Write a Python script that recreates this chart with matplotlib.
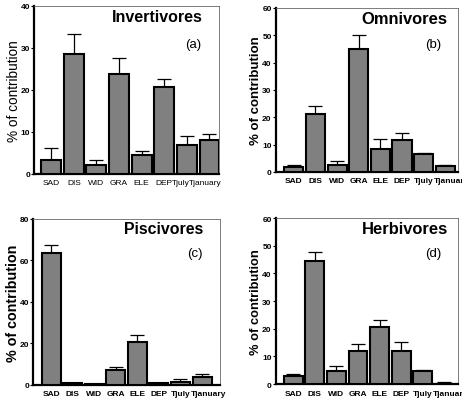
import numpy as np
import matplotlib
matplotlib.use("Agg")
import matplotlib.pyplot as plt
from matplotlib.transforms import ScaledTranslation

plt.rcParams['font.family'] = ['Liberation Sans', 'DejaVu Sans']

variables = ["SAD", "DIS", "WID", "GRA", "ELE", "DEP", "Tjuly", "Tjanuary"]

# mean contribution (%) and upper end of the error bar for each trophic group
invert_mean = [3.2, 28.6, 2.0, 23.7, 4.4, 20.6, 6.8, 8.0]
invert_top = [6.1, 33.2, 3.2, 27.7, 5.4, 22.7, 8.9, 9.4]
omni_mean = [1.9, 21.2, 2.5, 44.9, 8.3, 11.8, 6.6, 2.1]
omni_top = [2.4, 24.0, 4.1, 50.0, 11.9, 14.1, 7.0, 2.5]
pisci_mean = [63.8, 1.0, 0.5, 7.2, 20.6, 1.0, 1.2, 3.6]
pisci_top = [67.5, 1.0, 0.5, 8.7, 24.2, 1.0, 2.9, 5.1]
herb_mean = [2.9, 44.5, 4.6, 11.8, 20.8, 11.8, 4.7, 0.1]
herb_top = [3.5, 47.7, 6.6, 14.4, 23.3, 15.3, 5.1, 0.7]

panels = [
    dict(title="Invertivores", tag="(a)", mean=invert_mean, top=invert_top, ymax=40, ystep=10,
         rect=[0.074, 0.565, 0.400, 0.418], xlim=(-0.75, 7.42), bold=False, ylsize=9.8,
         tsize=11.5, tpos=(0.914, 0.935), apos=(0.86, 0.775)),
    dict(title="Omnivores", tag="(b)", mean=omni_mean, top=omni_top, ymax=60, ystep=10,
         rect=[0.597, 0.570, 0.395, 0.408], xlim=(-0.83, 7.6), bold=True, ylsize=9.5,
         tsize=11.9, tpos=(0.94, 0.933), apos=(0.86, 0.78)),
    dict(title="Piscivores", tag="(c)", mean=pisci_mean, top=pisci_top, ymax=80, ystep=20,
         rect=[0.072, 0.040, 0.404, 0.413], xlim=(-0.83, 7.83), bold=True, ylsize=10.3,
         tsize=11.4, tpos=(0.91, 0.94), apos=(0.866, 0.795)),
    dict(title="Herbivores", tag="(d)", mean=herb_mean, top=herb_top, ymax=60, ystep=10,
         rect=[0.597, 0.042, 0.395, 0.413], xlim=(-0.81, 7.65), bold=True, ylsize=9.3,
         tsize=11.9, tpos=(0.945, 0.94), apos=(0.863, 0.79)),
]

fig = plt.figure(figsize=(4.62, 4.02), dpi=100)


def nudge(label, ha, dx):
    label.set_ha(ha)
    label.set_transform(label.get_transform() + ScaledTranslation(dx, 0, fig.dpi_scale_trans))


for p in panels:
    ax = fig.add_axes(p["rect"])
    x = np.arange(len(variables))
    mean = np.array(p["mean"])
    err = np.array(p["top"]) - mean
    ax.bar(x, mean, width=0.88, color="#808080", edgecolor="black", linewidth=1.5, zorder=3)
    ax.errorbar(x, mean, yerr=[np.zeros_like(err), err], fmt="none", ecolor="black",
                elinewidth=0.9, capsize=5, capthick=0.9, zorder=2)
    ax.set_xlim(*p["xlim"])
    ax.set_ylim(0, p["ymax"])
    ax.set_yticks(np.arange(0, p["ymax"] + 1, p["ystep"]))
    ax.set_xticks(x)
    ax.tick_params(axis="x", length=0, pad=4)
    ax.tick_params(axis="y", length=2, width=0.8, pad=1)
    weight = "bold" if p["bold"] else "normal"
    ax.set_xticklabels(variables, fontsize=6.0, fontweight=weight)
    for lbl in ax.get_yticklabels():
        lbl.set_fontsize(6)
        lbl.set_fontweight("bold")

    # the two long labels at the end are nudged so they don't run into each other
    labels = ax.get_xticklabels()
    if p["bold"]:
        nudge(labels[7], "left", -0.11)
    else:
        nudge(labels[6], "right", 0.025)
        nudge(labels[7], "right", 0.12)

    ax.spines["left"].set_linewidth(1.6)
    ax.spines["bottom"].set_linewidth(1.6)
    for side in ("top", "right"):
        ax.spines[side].set_linewidth(0.6)
        ax.spines[side].set_color("#666666")
    ax.set_ylabel("% of contribution", fontsize=p["ylsize"], fontweight=weight, labelpad=0)
    ax.text(p["tpos"][0], p["tpos"][1], p["title"], transform=ax.transAxes, ha="right",
            va="center", fontsize=p["tsize"], fontweight="bold")
    ax.text(p["apos"][0], p["apos"][1], p["tag"], transform=ax.transAxes, ha="center",
            va="center", fontsize=9.5)

fig.savefig("out.png", dpi=100)
